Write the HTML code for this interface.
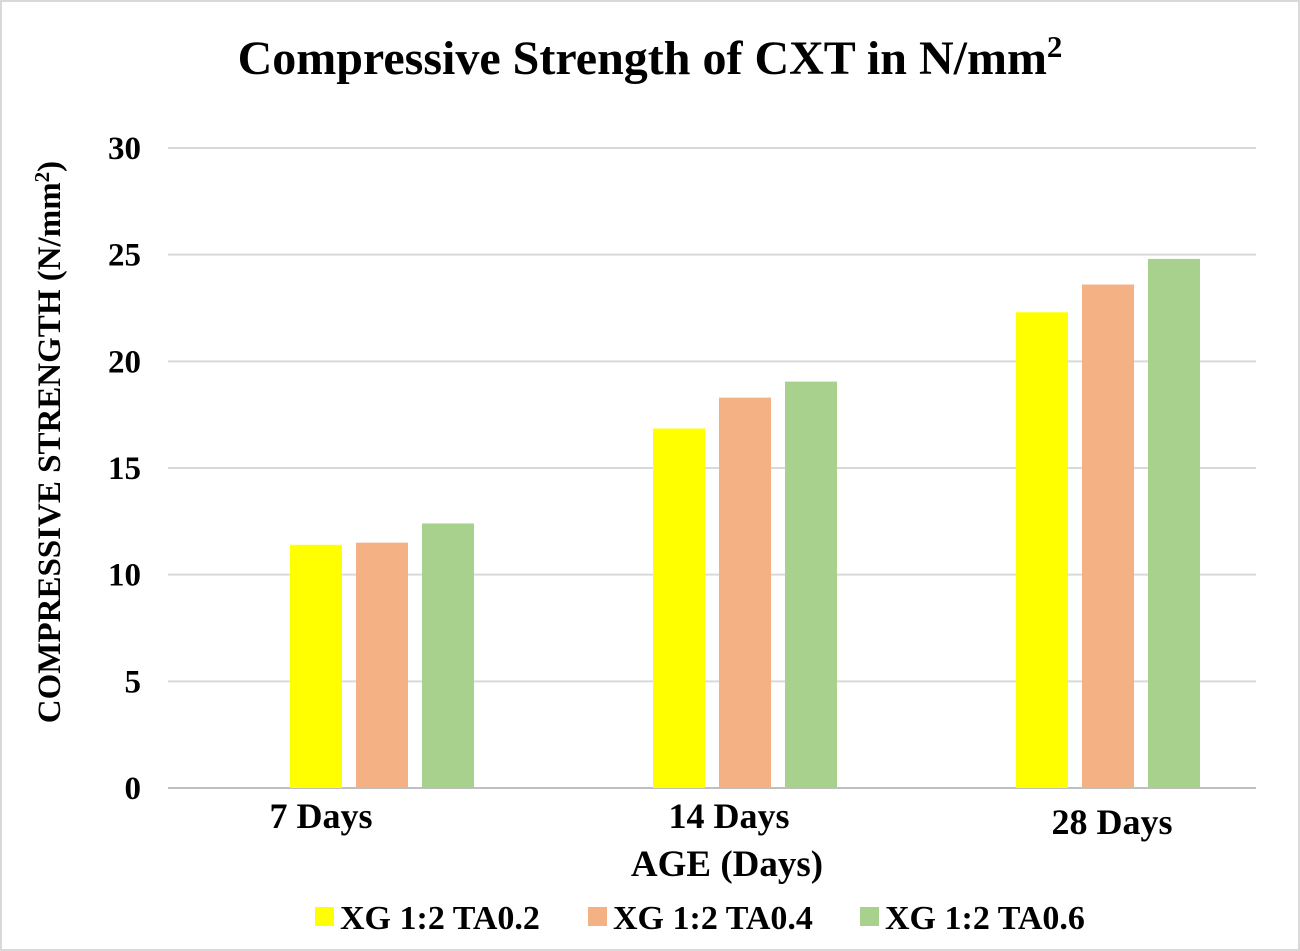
<!DOCTYPE html>
<html><head><meta charset="utf-8"><style>
body{margin:0;background:#fff;}
svg{display:block;font-family:"Liberation Serif",serif;font-weight:bold;}
</style></head><body>
<svg width="1300" height="951" viewBox="0 0 1300 951">
<rect x="1" y="1" width="1298" height="949" fill="#fff" stroke="#d9d9d9" stroke-width="2"/>
<text x="650" y="74" text-anchor="middle" font-size="48">Compressive Strength of CXT in N/mm<tspan font-size="31" dy="-17">2</tspan></text>
<g id="grid"></g>
<g id="bars"></g>
<g id="xlabels"></g>
<text transform="translate(60,442) rotate(-90)" text-anchor="middle" font-size="33">COMPRESSIVE STRENGTH (N/mm<tspan font-size="21" dy="-11">2</tspan><tspan dy="11">)</tspan></text>
<text x="727" y="876" text-anchor="middle" font-size="37">AGE (Days)</text>
<g id="legend"></g>
</svg>
<script>
const categories=["7 Days","14 Days","28 Days"];
const seriesNames=["XG 1:2 TA0.2","XG 1:2 TA0.4","XG 1:2 TA0.6"];
const s1=[11.4,11.5,12.4];
const s2=[16.85,18.3,19.05];
const s3=[22.3,23.6,24.8];
const yTicks=[0,5,10,15,20,25,30];
const colors=["#ffff00","#f4b183","#a9d18e"];
const NS="http://www.w3.org/2000/svg";
const values=[s1,s2,s3];
function y(v){return 788-(v/30)*640;}
function cx(i){return 382+i*363;}
function mk(tag,attrs,parent){const e=document.createElementNS(NS,tag);for(const k in attrs)e.setAttribute(k,attrs[k]);parent.appendChild(e);return e;}
const grid=document.getElementById('grid');
yTicks.forEach(t=>{
 const l=mk('line',{x1:168,x2:1256,y1:y(t),y2:y(t),stroke:t===0?'#bfbfbf':'#d9d9d9','stroke-width':2},grid);
 
 
 const tx=mk('text',{x:141,y:y(t)+11,'text-anchor':'end','font-size':33},grid);
 tx.textContent=t;
 
 
});
const bars=document.getElementById('bars');
const labelX=[321,729,1112],labelY=[828,828,834];
categories.forEach((c,i)=>{
 values[i].forEach((v,j)=>{
  const x=cx(i)-92+j*66;
  const r=mk('rect',{x:x,y:y(v),width:52,height:788-y(v),fill:colors[j]},bars);
  
  
 });
 const t=mk('text',{x:labelX[i],y:labelY[i],'text-anchor':'middle','font-size':36},document.getElementById('xlabels'));
 t.textContent=c;
 
 
});
const lg=document.getElementById('legend');
const lx=[315,588,860];
seriesNames.forEach((n,j)=>{
 const r=mk('rect',{x:lx[j],y:907,width:19,height:19,fill:colors[j]},lg);
 
 
 const t=mk('text',{x:lx[j]+25,y:929,'font-size':34},lg);
 t.textContent=n;
 
 
});
</script>
</body></html>
